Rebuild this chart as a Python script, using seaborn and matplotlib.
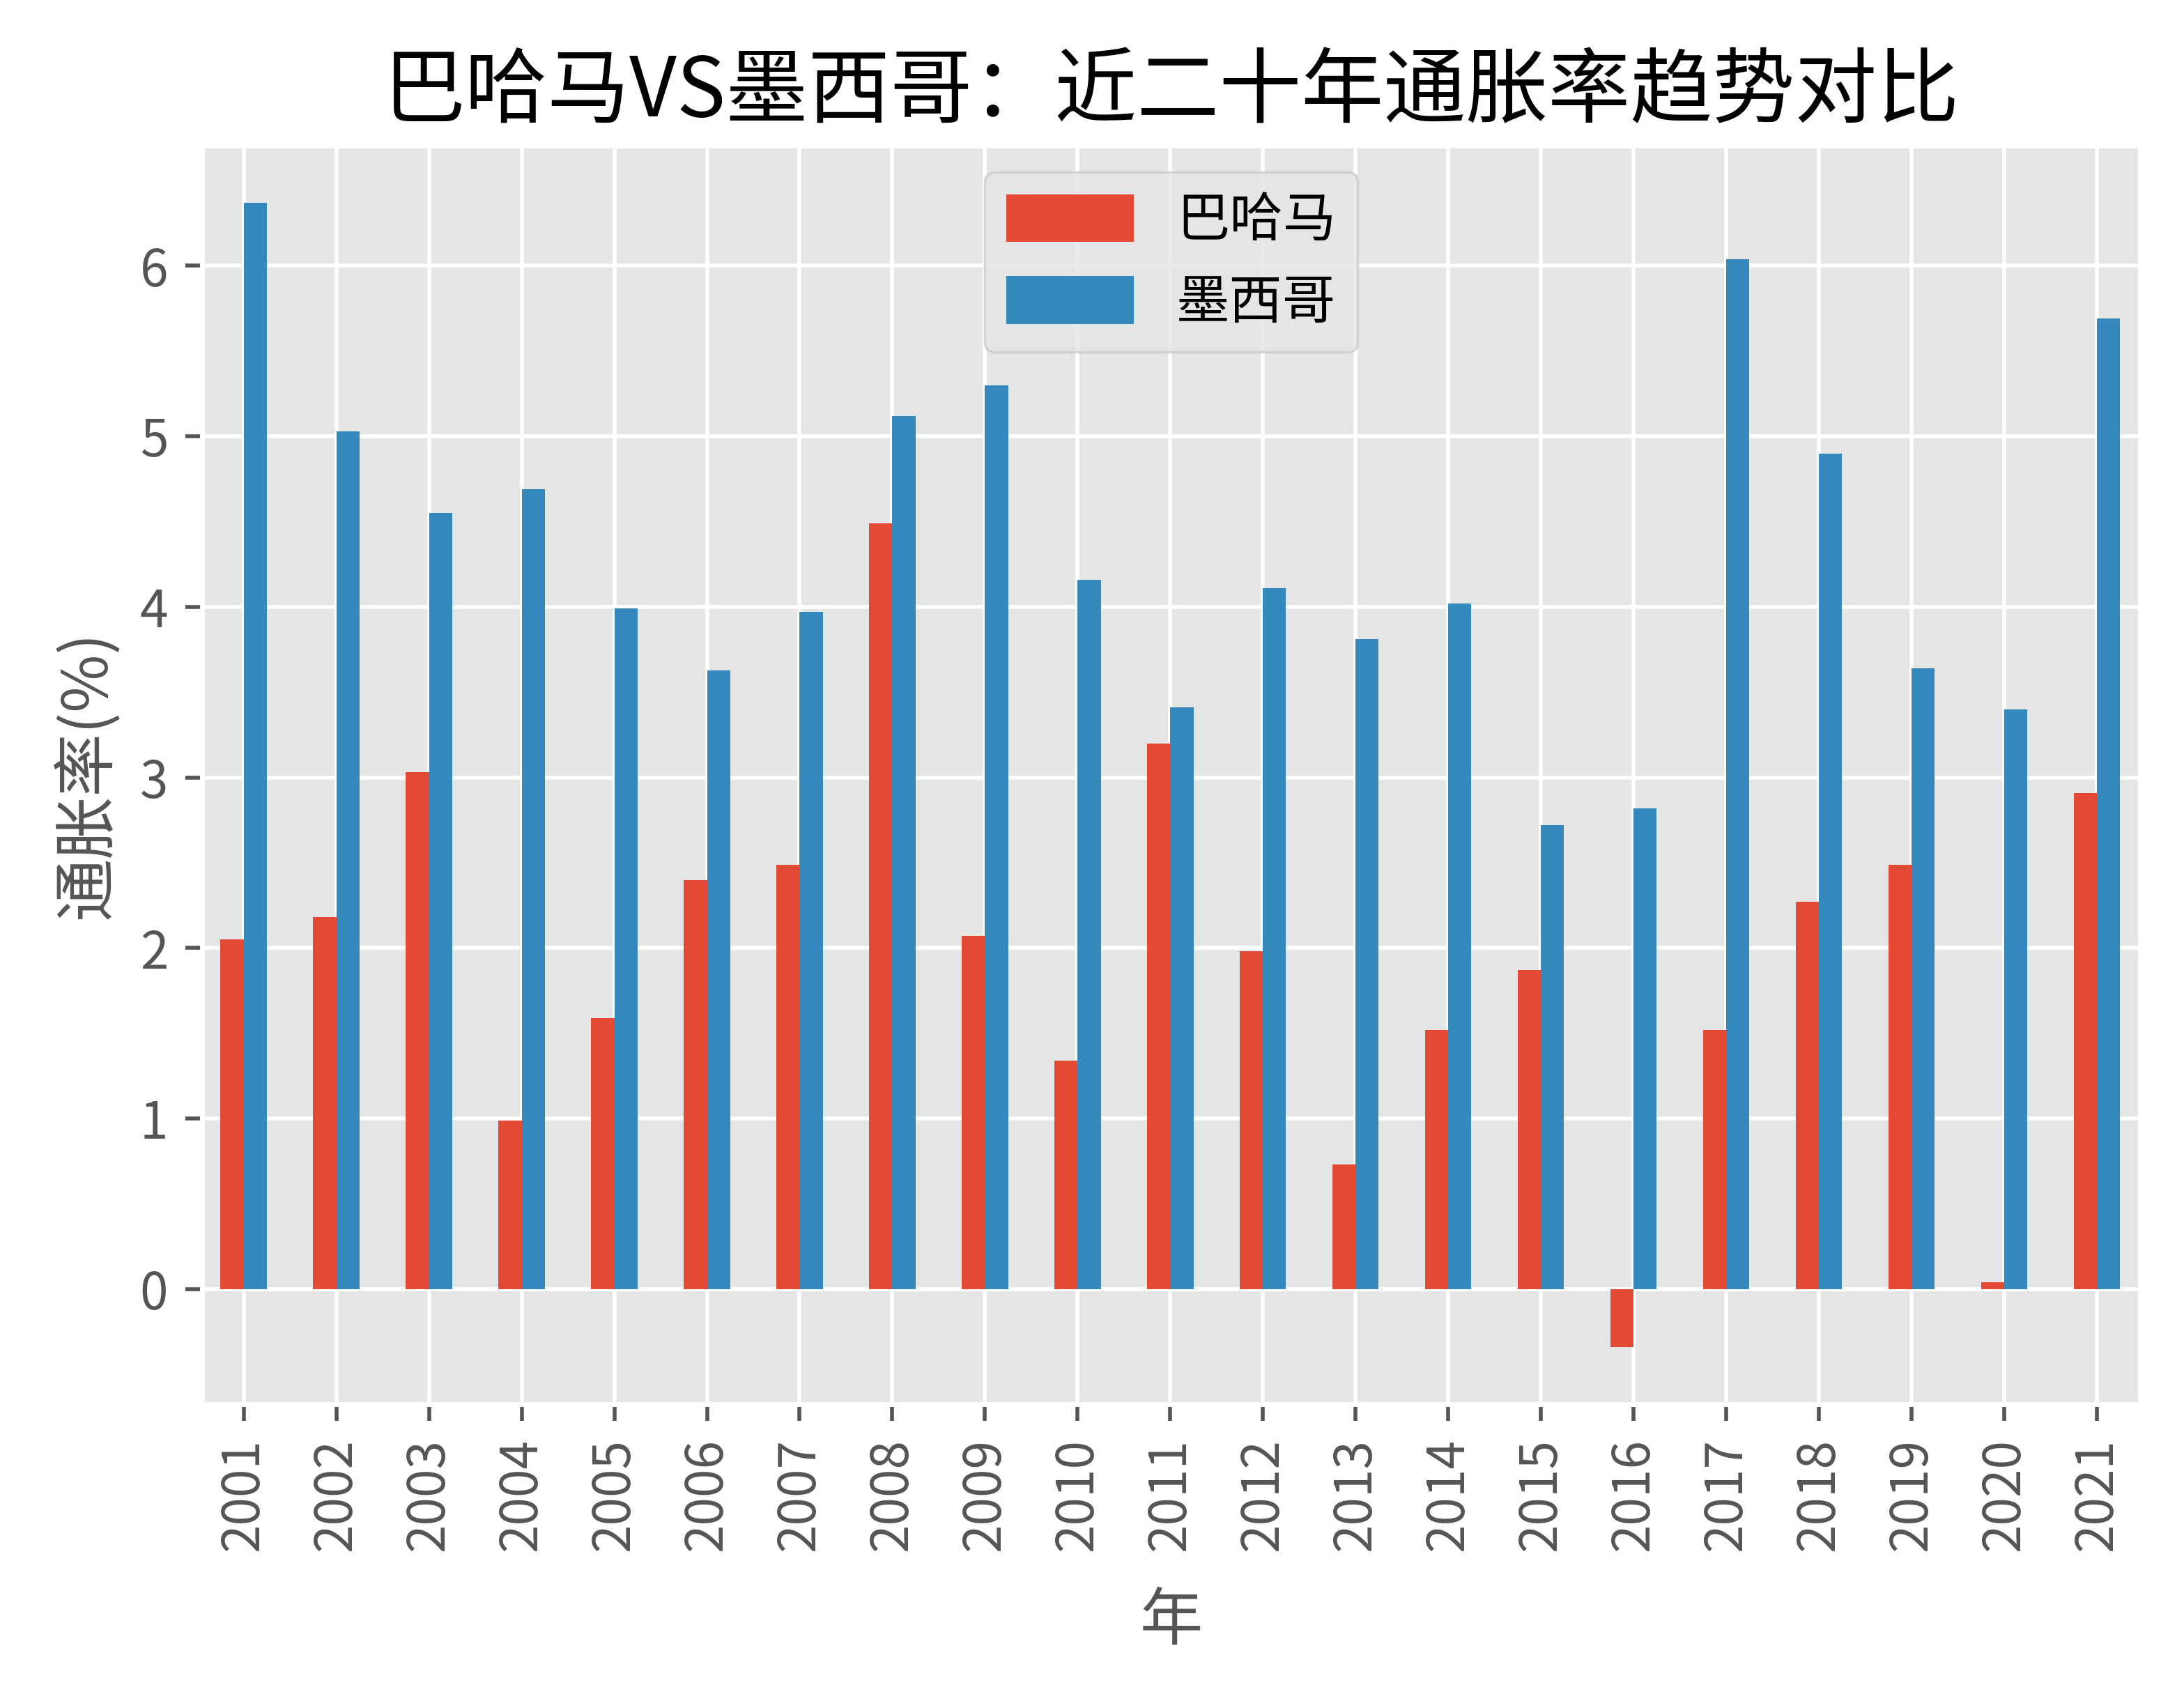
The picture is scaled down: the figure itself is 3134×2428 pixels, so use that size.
import pandas as pd
import matplotlib
matplotlib.use("Agg")
import matplotlib.pyplot as plt
import seaborn as sns

years = [str(y) for y in range(2001, 2022)]
bahamas = [2.05, 2.18, 3.03, 0.99, 1.59, 2.40, 2.49, 4.49, 2.07, 1.34, 3.20,
           1.98, 0.73, 1.52, 1.87, -0.34, 1.52, 2.27, 2.49, 0.04, 2.91]
mexico = [6.37, 5.03, 4.55, 4.69, 3.99, 3.63, 3.97, 5.12, 5.30, 4.16, 3.41,
          4.11, 3.81, 4.02, 2.72, 2.82, 6.04, 4.90, 3.64, 3.40, 5.69]
countries = ["巴哈马", "墨西哥"]
colors = ["#E24A33", "#348ABD"]

plt.style.use("ggplot")
plt.rcParams["font.family"] = ["Noto Sans CJK SC", "DejaVu Sans"]
plt.rcParams["axes.unicode_minus"] = False

df = pd.DataFrame({
    "年": years * 2,
    "通胀率": bahamas + mexico,
    "国家": [countries[0]] * len(years) + [countries[1]] * len(years),
})

fig = plt.figure(figsize=(3134 / 500, 2428 / 500), dpi=500)
ax = fig.add_axes([0.0925, 0.170, 0.8875, 0.744])

sns.barplot(data=df, x="年", y="通胀率", hue="国家", order=years,
            hue_order=countries, palette=colors, width=0.5, saturation=1,
            ax=ax)

# 网格和坐标轴
ax.grid(True, axis="both", color="white", linewidth=0.8)
ax.set_axisbelow(True)
ax.set_xlim(-0.45, 20.47)
ax.tick_params(axis="x", rotation=90, labelsize=10.5, colors="#555555")
ax.tick_params(axis="y", labelsize=10.5, colors="#555555")
ax.set_xlabel("年", fontsize=13, color="#555555", labelpad=8)
ax.set_ylabel("通胀率(%)", fontsize=13, color="#555555")
ax.set_title("巴哈马VS墨西哥：近二十年通胀率趋势对比", fontsize=17, color="black", pad=6)

sns.move_legend(ax, "upper center", title=None, fontsize=11,
                handlelength=2.4, handleheight=1.0, frameon=True)

fig.savefig("out.png", dpi=500)
